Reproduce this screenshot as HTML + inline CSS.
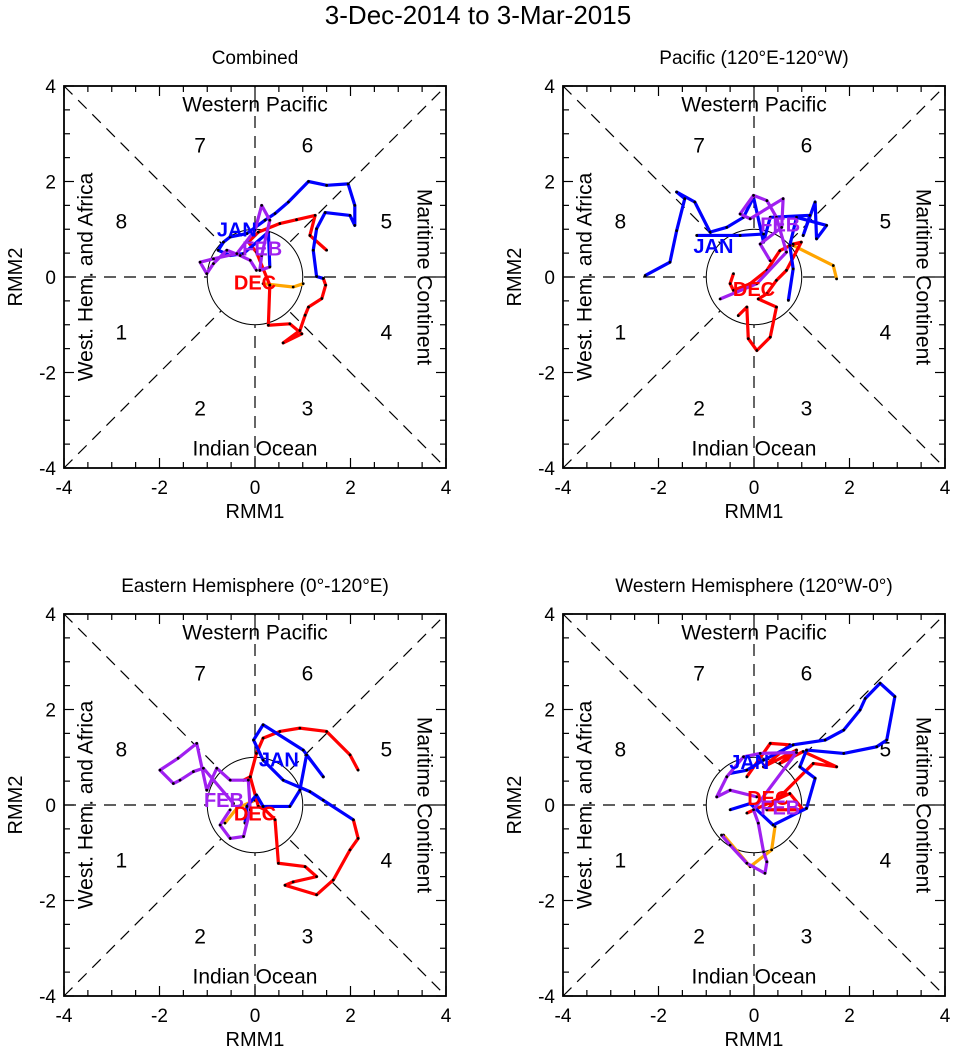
<!DOCTYPE html>
<html><head><meta charset="utf-8"><style>
html,body{margin:0;padding:0;background:#fff;}
svg{display:block;font-family:"Liberation Sans",sans-serif;}
</style></head><body>
<svg id="chart" width="956" height="1057" viewBox="0 0 956 1057">
<text x="478" y="24" font-size="26" text-anchor="middle">3-Dec-2014 to 3-Mar-2015</text>
</svg>
<script>
const panelTitles = ["Combined", "Pacific (120°E-120°W)", "Eastern Hemisphere (0°-120°E)", "Western Hemisphere (120°W-0°)"];
const tickValues = [-4, -2, 0, 2, 4];
const tickLabels = ["-4", "-2", "0", "2", "4"];
const phaseNumbers = ["1","2","3","4","5","6","7","8"];

const p1Orange = [[0.17,-0.14],[0.80,-0.21],[1.01,-0.14]];
const p1Dec = [[1.50,0.56],[1.15,0.87],[1.26,1.29],[0.87,1.20],[0.52,1.12],[0.07,0.94],[-0.14,0.73],[0.03,0.52],[0.31,-0.17],[0.28,-1.01],[0.73,-0.98],[0.98,-1.19],[0.59,-1.38],[0.94,-1.12],[1.05,-0.80],[1.12,-0.63],[1.40,-0.45],[1.48,-0.17],[1.43,-0.03]];
const p1Jan = [[1.43,-0.03],[1.29,0.01],[1.22,0.56],[1.29,1.01],[1.47,1.35],[1.99,1.29],[2.09,1.08],[2.09,1.50],[1.95,1.95],[1.50,1.92],[1.12,2.00],[0.70,1.57],[0.42,1.33],[0.21,1.19],[-0.17,0.91],[-0.52,0.84],[-0.66,0.73],[-0.77,0.56],[-0.52,0.45],[-0.24,0.49],[0.28,0.94],[0.31,0.21]];
const p1Feb = [[0.31,0.21],[0.10,0.14],[0.14,0.45],[0.31,1.19],[0.14,1.50],[0,0.98],[-0.38,0.49],[-0.87,0.38],[-1.15,0.31],[-1.01,0.07],[-0.87,0.28],[-0.59,0.56],[-0.31,0.45],[-0.10,0.35],[0.03,0.14]];

const p2Orange = [[0.82,0.66],[1.66,0.24],[1.73,-0.04]];
const p2Dec = [[-0.43,0.07],[-0.50,-0.14],[-0.43,-0.28],[-0.08,-0.14],[0.27,0.14],[0.54,0.55],[0.82,0.69],[0.99,0.73],[0.68,0.14],[0.47,-0.07],[0.27,-0.35],[0.09,-0.46],[0.47,-0.63],[0.34,-1.26],[0.06,-1.54],[-0.12,-1.29],[-0.15,-0.63],[-0.33,-0.81]];
const p2Jan = [[0.72,-0.49],[0.82,0.17],[0.75,0.66],[0.89,1.25],[1.52,1.08],[1.31,0.80],[1.28,1.57],[1.03,0.87],[1.17,1.29],[0.34,1.25],[0.20,0.73],[-0.01,1.67],[-0.22,1.25],[-0.57,1.04],[-0.92,0.94],[-1.24,1.57],[-1.62,1.78],[-1.45,1.64],[-1.62,0.97],[-1.76,0.31],[-2.28,0.03]];
const p2JanB = [[-1.20,0.87],[-0.29,0.87],[0.20,0.90]];
const p2Feb = [[-0.71,-0.46],[0.06,-0.14],[0.68,0.52],[0.47,1.25],[0.27,1.60],[-0.01,1.71],[-0.29,1.32],[-0.08,1.22],[0.61,1.64],[0.58,1.04],[0.13,0.69],[0.34,0.34]];

const p3Orange = [[-0.63,-0.38],[-0.38,-0.07],[0,0.10]];
const p3Dec = [[2.16,0.73],[1.99,1.05],[1.50,1.54],[0.94,1.61],[0.52,1.54],[0.17,1.40],[0.03,1.08],[-0.10,0.59],[-0.24,0.52],[-0.10,0.59],[0.07,-0.03],[0.21,-0.10],[0.42,-0.31],[0.49,-1.22],[1.05,-1.29],[1.29,-1.50],[0.80,-1.61],[0.63,-1.68],[1.29,-1.88],[1.64,-1.57],[1.99,-0.94],[2.16,-0.70],[2.06,-0.31]];
const p3Jan = [[2.06,-0.31],[1.43,0.10],[1.15,0.28],[0.59,0.52],[0.17,0.94],[-0.03,1.36],[0.17,1.68],[1.01,1.15],[1.43,0.59],[1.08,1.05],[0.94,0.31],[0.73,-0.03],[0.17,-0.03],[0.03,0.21],[-0.17,-0.03],[-0.21,-0.38]];
const p3Feb = [[-0.52,-0.10],[-0.73,-0.42],[-0.52,-0.70],[-0.24,-0.66],[-0.10,-0.10],[-0.14,0.52],[-0.52,0.52],[-0.80,0.77],[-1.01,0.31],[-1.22,1.29],[-1.61,0.98],[-1.99,0.73],[-1.71,0.45],[-1.57,0.52],[-1.29,0.70],[-1.08,0.77],[-0.45,0.03]];

const p4Orange = [[-0.64,-0.63],[-0.08,-1.29],[0.37,-0.94],[0.44,-0.45]];
const p4Dec = [[-0.15,0.59],[0.34,1.29],[0.75,1.26],[0.20,0.80],[0.89,1.15],[0.54,0.87],[1.03,1.12],[1.73,0.80],[1.24,0.87],[0.27,-0.10],[1.03,-0.10],[0.75,0.24],[-0.15,-0.17]];
const p4Jan = [[-0.50,-0.10],[-0.08,0.03],[0.40,-0.42],[1.10,-0.07],[1.28,0.56],[0.96,0.80],[1.10,1.15],[1.88,1.08],[2.57,1.22],[2.78,1.36],[2.95,2.27],[2.64,2.55],[2.33,2.23],[2.22,1.99],[1.88,1.57],[1.49,1.36],[0.82,1.26],[0.20,0.94],[-0.15,0.73],[-0.50,0.66]];
const p4Feb = [[0.06,0.17],[-0.50,0.31],[-0.78,0.17],[-0.57,0.59],[-0.22,1.01],[0.13,1.08],[0.89,1.10],[-0.01,-0.10],[0.09,-0.38],[0.20,-0.98],[0.27,-1.19],[0.23,-1.43],[-0.15,-1.22],[-0.50,-0.84],[-0.68,-0.63]];

const p1Labels = [["DEC","#f00",0,-0.12],["JAN","#00f",-0.38,1.0],["FEB","#a020f0",0.15,0.6]];
const p2Labels = [["DEC","#f00",0.0,-0.25],["JAN","#00f",-0.85,0.65],["FEB","#a020f0",0.55,1.1]];
const p3Labels = [["DEC","#f00",0.0,-0.18],["JAN","#00f",0.5,0.95],["FEB","#a020f0",-0.65,0.1]];
const p4Labels = [["DEC","#f00",0.3,0.15],["JAN","#00f",-0.1,0.9],["FEB","#a020f0",0.55,-0.05]];

const panels = [
 {x:64,y:86,title:panelTitles[0],series:[[p1Orange,"#ffa500"],[p1Dec,"#f00"],[p1Jan,"#00f"],[p1Feb,"#a020f0"]],labels:p1Labels},
 {x:563,y:86,title:panelTitles[1],series:[[p2Orange,"#ffa500"],[p2Dec,"#f00"],[p2Jan,"#00f"],[p2JanB,"#00f"],[p2Feb,"#a020f0"]],labels:p2Labels},
 {x:64,y:614,title:panelTitles[2],series:[[p3Orange,"#ffa500"],[p3Dec,"#f00"],[p3Jan,"#00f"],[p3Feb,"#a020f0"]],labels:p3Labels},
 {x:563,y:614,title:panelTitles[3],series:[[p4Orange,"#ffa500"],[p4Dec,"#f00"],[p4Jan,"#00f"],[p4Feb,"#a020f0"]],labels:p4Labels}
];
const NS="http://www.w3.org/2000/svg";
const svg=document.getElementById('chart');
const S=382, U=S/8;
function mk(tag,attrs,parent){const e=document.createElementNS(NS,tag);for(const k in attrs)e.setAttribute(k,attrs[k]);parent.appendChild(e);return e;}
panels.forEach((p,i)=>{
 const g=mk('g',{},svg);
 
 
 const sx=v=>p.x+S/2+v*U, sy=v=>p.y+S/2-v*U;
 const t=mk('text',{x:p.x+S/2,y:p.y-22,'font-size':19,'text-anchor':'middle'},g);t.textContent=p.title;
 
 
 const dl=[[-4,-4,4,4],[-4,4,4,-4],[-4,0,4,0],[0,-4,0,4]];
 dl.forEach(d=>{const l=mk('line',{x1:sx(d[0]),y1:sy(d[1]),x2:sx(d[2]),y2:sy(d[3]),stroke:'#000','stroke-width':1.2,'stroke-dasharray':'12,8'},g);
  
  });
 const c=mk('circle',{cx:sx(0),cy:sy(0),r:U,fill:'#fff',stroke:'#000','stroke-width':1},g);
 
 
 const pp=[[-2.8,-1.16],[-1.15,-2.75],[1.1,-2.75],[2.75,-1.16],[2.75,1.16],[1.1,2.75],[-1.15,2.75],[-2.8,1.16]];
 pp.forEach((q,k)=>{const tx=mk('text',{x:sx(q[0]),y:sy(q[1])+7,'font-size':21,'text-anchor':'middle'},g);tx.textContent=phaseNumbers[k];
  
  });
 const regs=[["Western Pacific",0,3.6,0],["Indian Ocean",0,-3.6,0],["West. Hem. and Africa",-3.54,0,-90],["Maritime Continent",3.54,0,90]];
 regs.forEach(r=>{const tx=mk('text',{x:sx(r[1]),y:sy(r[2]),'font-size':21,'text-anchor':'middle','dominant-baseline':'central',transform:`rotate(${r[3]} ${sx(r[1])} ${sy(r[2])})`},g);tx.textContent=r[0];
  
  });
 p.series.forEach(s=>{
  const pl=mk('polyline',{points:s[0].map(d=>sx(d[0])+','+sy(d[1])).join(' '),fill:'none',stroke:s[1],'stroke-width':3.2,'stroke-linejoin':'round'},g);
  
  
  s[0].forEach(d=>{const dt=mk('circle',{cx:sx(d[0]),cy:sy(d[1]),r:1.4,fill:'#000'},g);
   
   });
 });
 p.labels.forEach(l=>{const tx=mk('text',{x:sx(l[2]),y:sy(l[3])+7,'font-size':20,'font-weight':'bold',fill:l[1],'text-anchor':'middle'},g);tx.textContent=l[0];
  
  });
 const b=mk('rect',{x:p.x,y:p.y,width:S,height:S,fill:'none',stroke:'#000','stroke-width':1.8},g);
 
 
 for(let v=-4;v<=4;v+=0.5){const maj=Number.isInteger(v/2);const len=maj?10:6;
  [[sx(v),p.y+S,sx(v),p.y+S-len],[sx(v),p.y,sx(v),p.y+len],[p.x,sy(v),p.x+len,sy(v)],[p.x+S,sy(v),p.x+S-len,sy(v)]].forEach(a=>{
   const l=mk('line',{x1:a[0],y1:a[1],x2:a[2],y2:a[3],stroke:'#000','stroke-width':1.2},g);
   
   });}
 tickValues.forEach((v,k)=>{
  const tx=mk('text',{x:sx(v),y:p.y+S+26,'font-size':19,'text-anchor':'middle'},g);tx.textContent=tickLabels[k];
  
  
  const ty=mk('text',{x:p.x-8,y:sy(v)+7,'font-size':19,'text-anchor':'end'},g);ty.textContent=tickLabels[k];
  
  
 });
 const xa=mk('text',{x:p.x+S/2,y:p.y+S+50,'font-size':20,'text-anchor':'middle'},g);xa.textContent='RMM1';
 
 
 const ya=mk('text',{x:p.x-42,y:p.y+S/2,'font-size':20,'text-anchor':'middle',transform:`rotate(-90 ${p.x-42} ${p.y+S/2})`},g);ya.textContent='RMM2';
 
 
});
</script>
</body></html>
